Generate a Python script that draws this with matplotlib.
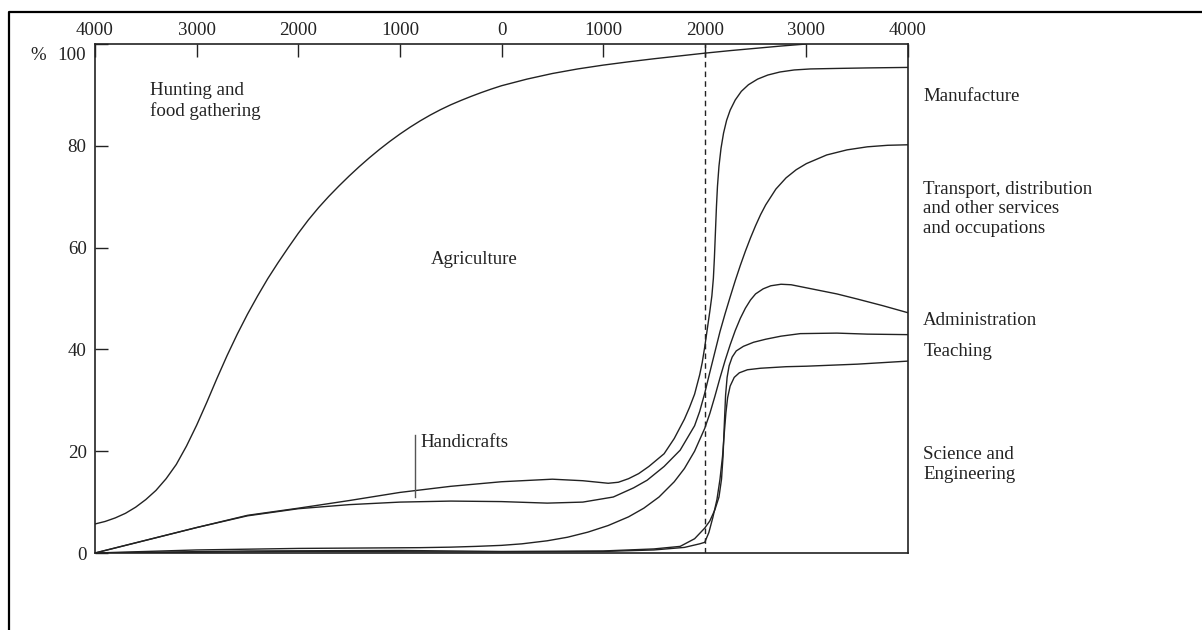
import matplotlib
matplotlib.use('Agg')
import matplotlib.pyplot as plt
from matplotlib.lines import Line2D

plt.rcParams['font.family'] = ['Liberation Serif', 'DejaVu Serif']

# boundary curves (year, % of workforce)
hunt_x = [-4000, -3900, -3800, -3700, -3600, -3500, -3400, -3300, -3200, -3100, -3000,
          -2900, -2800, -2700, -2600, -2500, -2400, -2300, -2200, -2100, -2000,
          -1900, -1800, -1700, -1600, -1500, -1400, -1300, -1200, -1100, -1000,
          -900, -800, -700, -600, -500, -400, -300, -200, -100, 0,
          250, 500, 750, 1000, 1250, 1500, 1750, 2000, 2250, 2500, 2750, 3000]
hunt_y = [5.7, 6.2, 6.9, 7.8, 9.0, 10.5, 12.3, 14.6, 17.4, 21.0, 25.1,
          29.6, 34.3, 38.8, 43.0, 46.9, 50.5, 53.9, 57.0, 59.95, 62.8,
          65.45, 67.85, 70.05, 72.1, 74.05, 75.9, 77.65, 79.3, 80.85, 82.3,
          83.65, 84.9, 86.05, 87.1, 88.05, 88.9, 89.7, 90.45, 91.15, 91.8,
          93.1, 94.2, 95.1, 95.85, 96.5, 97.1, 97.65, 98.2, 98.7, 99.15, 99.6, 100.0]

manuf_x = [-4000, -3500, -3000, -2500, -2000, -1500, -1000, -500, 0, 500, 800,
           1050, 1150, 1250, 1350, 1450, 1600, 1700, 1800, 1850, 1900, 1950, 1975,
           2000, 2025, 2050, 2070, 2085, 2095, 2105, 2115, 2125, 2140, 2160, 2185,
           2215, 2250, 2300, 2360, 2430, 2520, 2620, 2740, 2880, 3040, 3300, 3600, 4000]
manuf_y = [0, 2.5, 5.0, 7.4, 8.8, 10.3, 11.9, 13.1, 14.0, 14.5, 14.2,
           13.7, 13.9, 14.6, 15.6, 17.0, 19.5, 22.5, 26.3, 28.6, 31.2, 35.0, 37.4,
           40.5, 44.0, 47.5, 50.5, 54.0, 58.0, 63.0, 68.0, 72.0, 76.0, 79.5, 82.5,
           85.0, 87.0, 89.0, 90.7, 92.0, 93.1, 93.9, 94.5, 94.9, 95.1, 95.2, 95.3, 95.4]

transp_x = [-4000, -3500, -3000, -2500, -2000, -1500, -1000, -500, 0, 450, 800,
            1100, 1300, 1433, 1600, 1758, 1900, 1950, 2000, 2050, 2100, 2150, 2200,
            2250, 2300, 2350, 2400, 2450, 2500, 2550, 2600, 2700, 2800, 2900, 3000,
            3200, 3400, 3600, 3800, 4000]
transp_y = [0, 2.5, 5.0, 7.3, 8.7, 9.5, 10.0, 10.2, 10.1, 9.8, 10.0,
            11.0, 12.8, 14.3, 17.0, 20.2, 25.0, 27.8, 31.4, 35.5, 39.5, 43.5, 47.0,
            50.3, 53.5, 56.5, 59.3, 61.9, 64.3, 66.5, 68.4, 71.5, 73.7, 75.3, 76.5,
            78.2, 79.2, 79.8, 80.1, 80.2]

admin_x = [-4000, -3000, -2000, -1200, -800, -500, -250, 0, 200, 450, 650, 850,
           1050, 1250, 1400, 1550, 1700, 1800, 1900, 2000, 2050, 2100, 2150, 2200,
           2250, 2300, 2350, 2400, 2450, 2500, 2575, 2650, 2750, 2850, 2950, 3100,
           3300, 3500, 3750, 4000]
admin_y = [0, 0.6, 0.9, 1.0, 1.05, 1.15, 1.3, 1.5, 1.8, 2.4, 3.1, 4.1,
           5.4, 7.1, 8.8, 11.0, 14.0, 16.6, 20.0, 24.5, 27.4, 30.8, 34.4, 37.8,
           40.9, 43.7, 46.1, 48.1, 49.7, 50.9, 51.9, 52.5, 52.8, 52.7, 52.3, 51.7,
           50.9, 49.9, 48.6, 47.2]

teach_x = [-4000, -2500, -1000, 0, 1000, 1500, 1758, 1900, 2000, 2050, 2100, 2140,
           2165, 2180, 2192, 2205, 2220, 2240, 2270, 2310, 2380, 2480, 2600, 2750,
           2940, 3300, 3600, 4000]
teach_y = [0, 0.4, 0.5, 0.3, 0.4, 0.8, 1.3, 2.8, 4.9, 6.3, 8.5, 11.0,
           14.5, 19.0, 25.0, 31.0, 34.5, 36.8, 38.5, 39.7, 40.6, 41.4, 42.0, 42.6,
           43.1, 43.2, 43.0, 42.9]

sci_x = [-4000, -2000, 0, 1000, 1500, 1800, 1950, 2000, 2040, 2080, 2120, 2150,
         2175, 2192, 2208, 2225, 2250, 2290, 2340, 2420, 2550, 2800, 3000, 3500, 4000]
sci_y = [0, 0.3, 0.2, 0.3, 0.6, 1.1, 1.8, 2.1, 4.0, 7.0, 10.5, 14.5,
         19.0, 23.5, 27.5, 30.5, 32.8, 34.5, 35.4, 36.0, 36.3, 36.6, 36.7, 37.1, 37.7]

top_ticks = [-4000, -3000, -2000, -1000, 0, 1000, 2000, 3000, 4000]
top_labels = ['4000', '3000', '2000', '1000', '0', '1000', '2000', '3000', '4000']
y_ticks = [0, 20, 40, 60, 80, 100]
y_labels = ['0', '20', '40', '60', '80', '']

side_labels = ['Manufacture', 'Transport, distribution\nand other services\nand occupations',
               'Administration', 'Teaching', 'Science and\nEngineering']
side_y = [89.6, 67.6, 45.6, 39.5, 17.4]

fs = 13.6
ink = '#222222'

fig = plt.figure(figsize=(12.02, 6.30), dpi=100)
ax = fig.add_axes([95/1202, 1 - 553/630, 813/1202, 509/630])

for xs, ys in [(hunt_x, hunt_y), (manuf_x, manuf_y), (transp_x, transp_y),
               (admin_x, admin_y), (teach_x, teach_y), (sci_x, sci_y)]:
    ax.plot(xs, ys, color=ink, lw=1.0, solid_joinstyle='round')

ax.axvline(2000, color=ink, lw=1.0, ls=(0, (4, 3)))

ax.set_xlim(-4000, 4000)
ax.set_ylim(0, 100)
for s in ax.spines.values():
    s.set_linewidth(1.2)
    s.set_color(ink)

ax.xaxis.tick_top()
ax.set_xticks(top_ticks)
ax.set_xticklabels(top_labels)
ax.set_yticks(y_ticks)
ax.set_yticklabels(y_labels)
ax.tick_params(axis='both', direction='in', length=9, width=1.0, color=ink,
               labelsize=fs, labelcolor=ink)
ax.tick_params(axis='x', bottom=False, top=True, pad=3.5)
ax.tick_params(axis='y', pad=6)

# the 100 label sits a little below its tick, with % beside it
ax.text(-0.0111, 97.8, '100', transform=ax.get_yaxis_transform(), ha='right',
        va='center', fontsize=fs, color=ink)
ax.text(-0.070, 97.8, '%', transform=ax.get_yaxis_transform(), ha='center',
        va='center', fontsize=fs, color=ink)

ax.text(-3460, 88.8, 'Hunting and\nfood gathering', fontsize=fs, color=ink,
        ha='left', va='center', linespacing=1.2)
ax.text(-700, 57.6, 'Agriculture', fontsize=fs, color=ink, ha='left', va='center')
ax.text(-800, 21.8, 'Handicrafts', fontsize=fs, color=ink, ha='left', va='center')
ax.plot([-850, -850], [11.0, 23.2], color='#555555', lw=1.0)

for lab, yv in zip(side_labels, side_y):
    ax.text(4150, yv, lab, fontsize=fs, color=ink, ha='left', va='center',
            linespacing=1.2, clip_on=False)

# outer frame (left and top edges visible)
fx = 9/1202
fy = 1 - 12/630
fig.add_artist(Line2D([fx, fx, 1.0], [0.0, fy, fy], color='black', lw=1.6,
                      transform=fig.transFigure))

fig.savefig('out.png', dpi=100)
